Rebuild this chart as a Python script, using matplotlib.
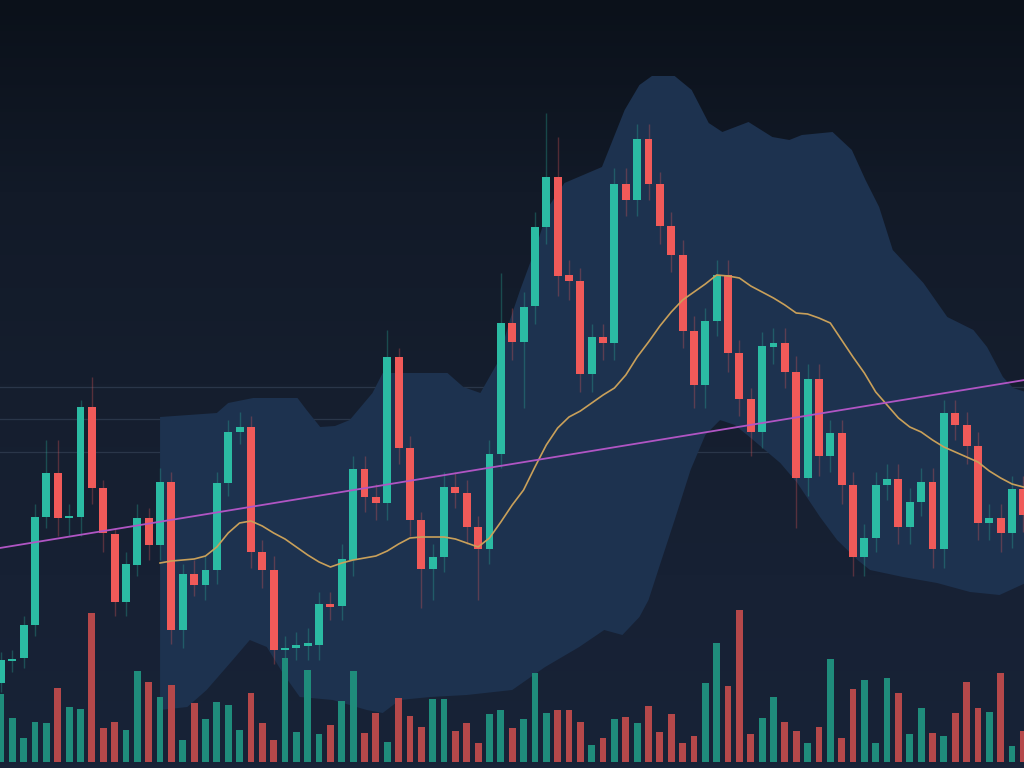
import numpy as np
import matplotlib as mpl
mpl.use('Agg')
import matplotlib.pyplot as plt
from matplotlib.colors import LinearSegmentedColormap

# candle data (price units), one entry per session
opens = [21.25, 26.75, 27.5, 35.75, 62.75, 73.75, 62.5, 62.75, 90.25, 70.0,
         58.5, 41.5, 50.75, 62.5, 55.75, 71.5, 34.5, 48.5, 45.75, 49.5,
         71.25, 84.0, 85.25, 54.0, 49.5, 29.5, 30.0, 30.5, 30.75, 41.0,
         40.5, 52.0, 74.75, 67.75, 66.25, 102.75, 80.0, 62.0, 49.75, 52.75,
         70.25, 68.75, 60.25, 54.75, 78.5, 111.25, 106.5, 115.5, 135.25, 147.75,
         123.25, 121.75, 98.5, 107.75, 106.25, 146.0, 142.0, 157.25, 146.0, 135.5,
         128.25, 109.25, 95.75, 111.75, 123.25, 103.75, 92.25, 84.0, 105.25, 106.25,
         99.0, 72.5, 97.25, 78.0, 83.75, 70.75, 52.75, 57.5, 70.75, 72.25,
         60.25, 66.5, 71.5, 54.75, 88.75, 85.75, 80.5, 61.25, 62.5, 58.75, 69.75]
closes = [27.0, 27.25, 35.75, 62.75, 73.75, 62.5, 63.0, 90.25, 70.0, 58.75,
          41.5, 51.0, 62.5, 55.75, 71.5, 34.5, 48.5, 45.75, 49.5, 71.25,
          84.0, 85.25, 54.0, 49.5, 29.5, 30.0, 30.75, 31.25, 41.0, 40.25,
          52.25, 74.75, 67.75, 66.25, 102.75, 80.0, 62.0, 49.75, 52.75, 70.25,
          68.75, 60.25, 54.75, 78.5, 111.25, 106.5, 115.25, 135.25, 147.75, 123.0,
          121.75, 98.5, 107.75, 106.25, 146.0, 142.0, 157.25, 146.0, 135.5, 128.25,
          109.25, 95.75, 111.75, 123.25, 103.75, 92.25, 84.0, 105.5, 106.25, 99.0,
          72.5, 97.25, 78.0, 83.75, 70.75, 52.75, 57.5, 70.75, 72.25, 60.25,
          66.5, 71.5, 54.75, 88.75, 85.75, 80.5, 61.25, 62.5, 58.75, 69.75, 63.25]
highs = [29, 29.5, 38, 66, 82, 82, 66, 92, 97.75, 72,
         60, 54, 66, 65, 75, 74, 51, 52, 53, 74,
         87, 89, 88, 57, 53, 33, 34, 35, 44, 44,
         56, 78, 78, 71, 109.5, 105, 83, 64, 56, 74,
         74, 72, 63, 82, 123.75, 115, 119, 139, 163.75, 157.75,
         127, 125, 111, 111, 150, 150, 161, 161, 149, 139,
         132, 113, 115, 127, 127, 107, 95, 109, 110, 110,
         103, 101, 101, 87, 87, 74, 61, 74, 76, 76,
         70, 75, 75, 92, 92, 89, 84, 66, 66, 73, 73]
lows = [19, 24, 25, 33, 60, 58, 58, 58, 66, 54,
        38, 38, 48, 52, 52, 31, 30, 43, 42, 46,
        68, 81, 50, 45, 26, 27, 27, 27, 27, 37,
        37, 48, 64, 62, 62, 76, 58, 40, 42, 49,
        65, 56, 42, 51, 75, 102, 90, 111, 131, 118,
        117, 94, 94, 102, 102, 138, 138, 142, 131, 124,
        105, 90, 90, 108, 99, 88, 78, 80, 101, 95,
        60, 68, 73, 74, 66, 48, 48, 54, 67, 56,
        56, 63, 50, 50, 82, 76, 57, 57, 54, 55, 59]

volume = [68, 44, 24, 40, 39, 74, 55, 53, 149, 34,
          40, 32, 91, 80, 65, 77, 22, 59, 43, 60,
          57, 32, 69, 39, 22, 104, 30, 92, 28, 37,
          61, 91, 29, 49, 20, 64, 46, 35, 63, 63,
          31, 39, 19, 48, 52, 34, 43, 89, 49, 52,
          52, 40, 17, 24, 43, 45, 39, 56, 30, 48,
          19, 26, 79, 119, 76, 152, 28, 44, 65, 40,
          31, 19, 35, 103, 24, 73, 82, 19, 84, 69,
          28, 54, 29, 26, 49, 80, 54, 50, 89, 16, 31]
volume_dir = ("GGGGGRGGRR" "RGGRGRGRGG" "GGRRRGGGGR" "GGRRGRRRGG" "RRRGGRGGGR"
              "RRGRGRGRRR" "RRGGRRRGGR" "RGRGRRGGGR" "GGRGRRRGRG" "R")

# moving average, starts at session 14
ma_start = 14
ma = [51.25, 51.75, 52.0, 52.25, 53.0, 55.25, 58.75, 61.25, 61.75, 60.5,
      58.75, 57.25, 55.25, 53.25, 51.5, 50.25, 51.25, 52.0, 52.5, 53.0,
      54.25, 56.0, 57.5, 57.75, 57.75, 57.75, 57.25, 56.25, 55.25, 57.5,
      61.5, 65.75, 69.5, 75.25, 80.75, 85.0, 87.75, 89.25, 91.25, 93.25,
      95.0, 98.25, 102.75, 106.5, 110.5, 114.0, 117.0, 119.0, 121.0, 123.25,
      123.0, 122.5, 120.5, 119.0, 117.5, 115.75, 113.75, 113.5, 112.5, 111.25,
      107.0, 102.75, 98.75, 94.0, 90.75, 87.5, 85.25, 84.0, 82.0, 80.25,
      79.0, 77.75, 76.5, 74.25, 72.5, 71.0, 70.25]

# trend line end points
trend_x = [-0.1, 90.1]
trend_y = [55.0, 97.0]

# shaded band (upper and lower edge)
band_up_x = [14.0, 19.0, 20.0, 22.2, 26.1, 26.9, 28.1, 29.4, 30.7, 32.7, 33.6, 39.3,
             40.7, 42.2, 43.7, 44.8, 45.7, 47.0, 48.3, 49.6, 52.9, 54.9, 56.2, 57.3,
             59.3, 60.8, 62.3, 63.5, 65.8, 67.9, 69.4, 70.5, 73.2, 74.9, 76.1, 77.3,
             78.5, 81.2, 83.3, 85.6, 86.8, 88.2, 89.1, 90.2]
band_up_y = [87.75, 88.75, 91.25, 92.5, 92.5, 89.5, 85.25, 85.5, 87.0, 93.75, 98.75, 98.75,
             95.25, 93.75, 101.25, 112.0, 119.5, 129.5, 140.75, 146.25, 150.25, 164.5, 170.75, 173.0,
             173.0, 169.5, 161.25, 159.0, 161.5, 157.75, 157.0, 158.25, 159.0, 154.5, 147.0, 140.25,
             129.5, 121.25, 112.75, 109.5, 105.25, 97.75, 95.0, 94.0]
band_lo_x = [14.0, 16.4, 18.1, 20.4, 21.9, 23.4, 24.8, 26.3, 29.2, 32.2, 33.6, 35.1,
             37.8, 41.0, 45.0, 47.9, 50.9, 53.1, 54.7, 56.2, 57.0, 58.0, 59.3, 60.7,
             62.0, 63.3, 64.6, 65.9, 68.6, 70.1, 72.1, 73.6, 75.4, 76.5, 79.4, 82.4,
             85.3, 87.9, 90.2]
band_lo_y = [14.5, 15.25, 19.5, 27.0, 32.0, 30.25, 23.75, 17.75, 17.0, 14.5, 13.75, 17.0,
             17.75, 18.25, 19.5, 25.25, 30.25, 34.5, 33.25, 37.75, 42.0, 50.75, 62.0, 74.5,
             83.25, 87.0, 85.75, 82.75, 76.25, 71.25, 62.75, 57.0, 52.0, 49.5, 47.75, 46.25,
             44.0, 43.25, 46.25]

grid_levels = [95.25, 87.25, 79.0]

UP = '#2bbba3'
DOWN = '#f05a59'
VOL_UP = '#1f8c7b'
VOL_DOWN = '#b5484a'

fig = plt.figure(figsize=(10.24, 7.68), dpi=100)

# background gradient, darker at the top
bg = fig.add_axes([0, 0, 1, 1])
bg_cmap = LinearSegmentedColormap.from_list('bg', ['#0b111a', '#121a28', '#151e2e', '#172134', '#182337'])
bg.imshow(np.linspace(0, 1, 256).reshape(-1, 1), aspect='auto', cmap=bg_cmap,
          extent=[0, 1, 0, 1], origin='upper')
bg.axis('off')

ax = fig.add_axes([0, 0, 1, 1])
ax.patch.set_alpha(0)
ax.set_xlim(-1 / 11.36, 1023 / 11.36)
ax.set_ylim(0, 192)
ax.axis('off')

for g in grid_levels:
    ax.axhline(g, color='#2a3649', lw=0.9, zorder=1)

ax.fill(band_up_x + band_lo_x[::-1], band_up_y + band_lo_y[::-1],
        color='#1d324f', lw=0, zorder=2)

# volume
vax = fig.add_axes([0, 6 / 768, 1, 1 - 6 / 768])
vax.patch.set_alpha(0)
vax.set_xlim(-1 / 11.36, 1023 / 11.36)
vax.set_ylim(0, 762)
vax.axis('off')
idx = np.arange(len(volume))
vcols = [VOL_UP if d == 'G' else VOL_DOWN for d in volume_dir]
vax.bar(idx, volume, width=0.6, color=vcols, zorder=3)

# candles
o = np.array(opens)
c = np.array(closes)
x = np.arange(len(o))
cols = [UP if cc >= oo else DOWN for oo, cc in zip(o, c)]
ax.vlines(x, lows, highs, colors=cols, lw=1, alpha=0.3, zorder=4)
ax.bar(x, np.maximum(np.abs(c - o), 0.6), bottom=np.minimum(o, c), width=0.7,
       color=cols, zorder=5)

ax.plot(np.arange(ma_start, ma_start + len(ma)), ma, color='#c9a05a', lw=1.2, zorder=6)
ax.plot(trend_x, trend_y, color='#b055c4', lw=1.3, zorder=6)

fig.savefig('out.png', dpi=100)
plt.close(fig)
